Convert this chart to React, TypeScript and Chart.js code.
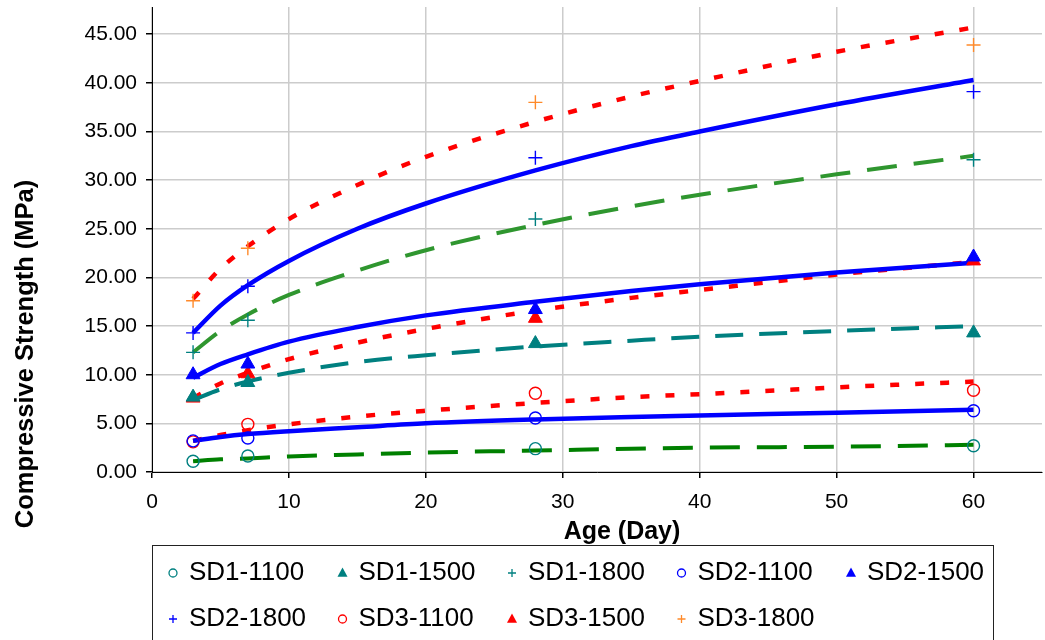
import React, { useEffect, useRef } from 'react';
import { Chart, registerables } from 'chart.js';

Chart.register(...registerables);

// ---- data ----
const DAYS = [3, 7, 28, 60];
const SD1_1100 = [1.1, 1.65, 2.4, 2.7];
const SD1_1500 = [7.7, 9.2, 13.2, 14.3];
const SD1_1800 = [12.3, 15.6, 26.0, 32.1];
const SD2_1100 = [3.2, 3.5, 5.55, 6.3];
const SD2_1500 = [10.0, 11.1, 16.7, 22.1];
const SD2_1800 = [14.3, 19.1, 32.3, 39.1];
const SD3_1100 = [3.1, 4.9, 8.1, 8.4];
const SD3_1500 = [7.6, 10.1, 15.8, 21.7];
const SD3_1800 = [17.6, 23.0, 38.0, 43.9];

// trend curves
const TREND_DAYS = [3, 5, 7, 10, 15, 20, 28, 35, 40, 50, 60];
const T_SD1_1100 = [1.1, 1.3, 1.4, 1.6, 1.8, 2.0, 2.2, 2.4, 2.5, 2.6, 2.8];
const T_SD1_1500 = [7.4, 8.5, 9.3, 10.2, 11.3, 12.0, 12.9, 13.5, 13.9, 14.5, 15.0];
const T_SD1_1800 = [12.3, 14.5, 16.2, 18.2, 20.7, 22.8, 25.4, 27.3, 28.5, 30.6, 32.5];
const T_SD2_1100 = [3.2, 3.6, 3.9, 4.2, 4.6, 5.0, 5.4, 5.65, 5.8, 6.1, 6.4];
const T_SD2_1500 = [9.7, 11.1, 12.1, 13.4, 14.9, 16.1, 17.5, 18.6, 19.3, 20.5, 21.5];
const T_SD2_1800 = [14.3, 17.1, 19.2, 21.7, 25.0, 27.6, 31.0, 33.5, 35.0, 37.8, 40.3];
const T_SD3_1100 = [3.2, 3.8, 4.3, 4.9, 5.7, 6.3, 7.1, 7.7, 8.0, 8.7, 9.3];
const T_SD3_1500 = [7.6, 9.1, 10.2, 11.6, 13.3, 14.7, 16.6, 17.9, 18.7, 20.3, 21.6];
const T_SD3_1800 = [17.8, 20.9, 23.2, 26.0, 29.5, 32.4, 36.0, 38.6, 40.2, 43.2, 45.7];

const X_TICKS = [0, 10, 20, 30, 40, 50, 60];
const Y_TICKS = [0, 5, 10, 15, 20, 25, 30, 35, 40, 45];

const SERIES_NAMES = ['SD1-1100', 'SD1-1500', 'SD1-1800', 'SD2-1100', 'SD2-1500', 'SD2-1800', 'SD3-1100', 'SD3-1500', 'SD3-1800'];

const X_TITLE = 'Age (Day)';
const Y_TITLE = 'Compressive Strength (MPa)';

// ---- styles ----
const TEAL = '#008080';
const BLUE = '#0000ff';
const RED = '#ff0000';
const ORANGE = '#ff8a2a';
const GREEN = '#008000';
const GREEN2 = '#2f962f';
const FONT = '"Liberation Sans", Arial, Helvetica, sans-serif';

type MarkerKind = 'circle' | 'triangle' | 'cross';

const MARKERS: { values: number[]; color: string; kind: MarkerKind }[] = [
  { values: SD1_1100, color: TEAL, kind: 'circle' },
  { values: SD1_1500, color: TEAL, kind: 'triangle' },
  { values: SD1_1800, color: TEAL, kind: 'cross' },
  { values: SD2_1100, color: BLUE, kind: 'circle' },
  { values: SD2_1500, color: BLUE, kind: 'triangle' },
  { values: SD2_1800, color: BLUE, kind: 'cross' },
  { values: SD3_1100, color: RED, kind: 'circle' },
  { values: SD3_1500, color: RED, kind: 'triangle' },
  { values: SD3_1800, color: ORANGE, kind: 'cross' },
];

const TRENDS: { values: number[]; color: string; dash: number[]; width: number }[] = [
  { values: T_SD1_1100, color: GREEN, dash: [30, 17], width: 4 },
  { values: T_SD1_1500, color: TEAL, dash: [28, 16], width: 4 },
  { values: T_SD1_1800, color: GREEN2, dash: [30, 17], width: 4 },
  { values: T_SD2_1100, color: BLUE, dash: [], width: 4.5 },
  { values: T_SD2_1500, color: BLUE, dash: [], width: 4.5 },
  { values: T_SD2_1800, color: BLUE, dash: [], width: 4.5 },
  { values: T_SD3_1100, color: RED, dash: [9, 16], width: 4.5 },
  { values: T_SD3_1500, color: RED, dash: [9, 16], width: 4.5 },
  { values: T_SD3_1800, color: RED, dash: [9, 16], width: 4.5 },
];

function drawMarker(ctx: CanvasRenderingContext2D, kind: MarkerKind, color: string, x: number, y: number, r: number) {
  ctx.save();
  ctx.strokeStyle = color;
  ctx.fillStyle = color;
  ctx.lineWidth = 1.3;
  ctx.setLineDash([]);
  ctx.beginPath();
  if (kind === 'circle') {
    ctx.arc(x, y, r, 0, Math.PI * 2);
    ctx.stroke();
  } else if (kind === 'triangle') {
    ctx.moveTo(x, y - r * 1.1);
    ctx.lineTo(x + r, y + r * 0.75);
    ctx.lineTo(x - r, y + r * 0.75);
    ctx.closePath();
    ctx.fill();
  } else {
    ctx.moveTo(x - r, y);
    ctx.lineTo(x + r, y);
    ctx.moveTo(x, y - r);
    ctx.lineTo(x, y + r);
    ctx.stroke();
  }
  ctx.restore();
}

const decorPlugin = {
  id: 'decor',
  afterDraw(chart: any) {
    const ctx: CanvasRenderingContext2D = chart.ctx;
    ctx.save();
    // axis titles
    ctx.fillStyle = '#000';
    ctx.font = `bold 25px ${FONT}`;
    ctx.textAlign = 'center';
    ctx.textBaseline = 'middle';
    ctx.fillText(X_TITLE, 622, 532);
    ctx.save();
    ctx.translate(26, 354);
    ctx.rotate(-Math.PI / 2);
    ctx.font = `bold 25.5px ${FONT}`;
    ctx.fillText(Y_TITLE, 0, 0);
    ctx.restore();

    // legend box
    ctx.strokeStyle = '#222';
    ctx.lineWidth = 1;
    ctx.strokeRect(152.5, 545.5, 841, 120);
    ctx.font = `26px ${FONT}`;
    ctx.textAlign = 'left';
    ctx.textBaseline = 'middle';
    SERIES_NAMES.forEach((name, i) => {
      const col = i % 5;
      const row = Math.floor(i / 5);
      const mx = 173 + col * 169.5;
      const ty = 573 + row * 46;
      const m = MARKERS[i];
      drawMarker(ctx, m.kind, m.color, mx, ty, m.kind === 'triangle' ? 5 : 4);
      ctx.fillStyle = '#000';
      ctx.fillText(name, mx + 16, ty);
    });
    ctx.restore();
  },
};

function zeroPadding(scale: any) {
  scale.paddingTop = 0;
  scale.paddingBottom = 0;
  scale.paddingLeft = 0;
  scale.paddingRight = 0;
}

export default function App() {
  const ref = useRef<HTMLCanvasElement | null>(null);

  useEffect(() => {
    document.body.style.margin = '0';
    if (!ref.current) return;

    const trendSets = TRENDS.map((t, i) => ({
      label: SERIES_NAMES[i] + ' trend',
      data: TREND_DAYS.map((d, j) => ({ x: d, y: t.values[j] })),
      showLine: true,
      borderColor: t.color,
      borderWidth: t.width,
      borderDash: t.dash,
      pointRadius: 0,
      fill: false,
      cubicInterpolationMode: 'monotone' as const,
      order: 1,
    }));

    const markerSets = MARKERS.map((m, i) => ({
      label: SERIES_NAMES[i],
      data: DAYS.map((d, j) => ({ x: d, y: m.values[j] })),
      showLine: false,
      pointStyle: m.kind,
      pointRadius: m.kind === 'triangle' ? 8 : m.kind === 'circle' ? 6 : 7,
      pointBorderColor: m.color,
      pointBackgroundColor: m.kind === 'triangle' ? m.color : 'rgba(0,0,0,0)',
      pointBorderWidth: m.kind === 'triangle' ? 1 : 1.4,
      order: 0,
    }));

    const chart = new Chart(ref.current, {
      type: 'scatter',
      data: { datasets: [...trendSets, ...markerSets] as any },
      options: {
        responsive: false,
        animation: false,
        layout: { autoPadding: false, padding: { left: 0, top: 7, right: 3, bottom: 0 } },
        plugins: { legend: { display: false }, tooltip: { enabled: false }, title: { display: false } },
        scales: {
          x: {
            type: 'linear',
            min: 0,
            max: 65,
            afterBuildTicks: (axis: any) => {
              axis.ticks = X_TICKS.map((v) => ({ value: v }));
            },
            afterFit: (scale: any) => {
              scale.height = 168;
              zeroPadding(scale);
            },
            ticks: {
              font: { family: FONT, size: 21 },
              color: '#000',
              padding: 12,
              maxRotation: 0,
              callback: (v: any) => String(v),
            },
            grid: { color: '#cccccc', lineWidth: 1.5, tickColor: '#000', tickLength: 6 },
            border: { color: '#000', width: 1 },
          },
          y: {
            type: 'linear',
            min: 0,
            max: 47.8,
            afterBuildTicks: (axis: any) => {
              axis.ticks = Y_TICKS.map((v) => ({ value: v }));
            },
            afterFit: (scale: any) => {
              scale.width = 152;
              zeroPadding(scale);
            },
            ticks: {
              font: { family: FONT, size: 21 },
              color: '#000',
              padding: 9,
              callback: (v: any) => Number(v).toFixed(2),
            },
            grid: { color: '#cccccc', lineWidth: 1.5, tickColor: '#000', tickLength: 6 },
            border: { color: '#000', width: 1 },
          },
        },
      },
      plugins: [decorPlugin],
    });

    return () => chart.destroy();
  }, []);

  return (
    <div style={{ width: 1045, height: 640, background: '#fff' }}>
      <canvas ref={ref} width={1045} height={640} style={{ width: 1045, height: 640, display: 'block' }} />
    </div>
  );
}
